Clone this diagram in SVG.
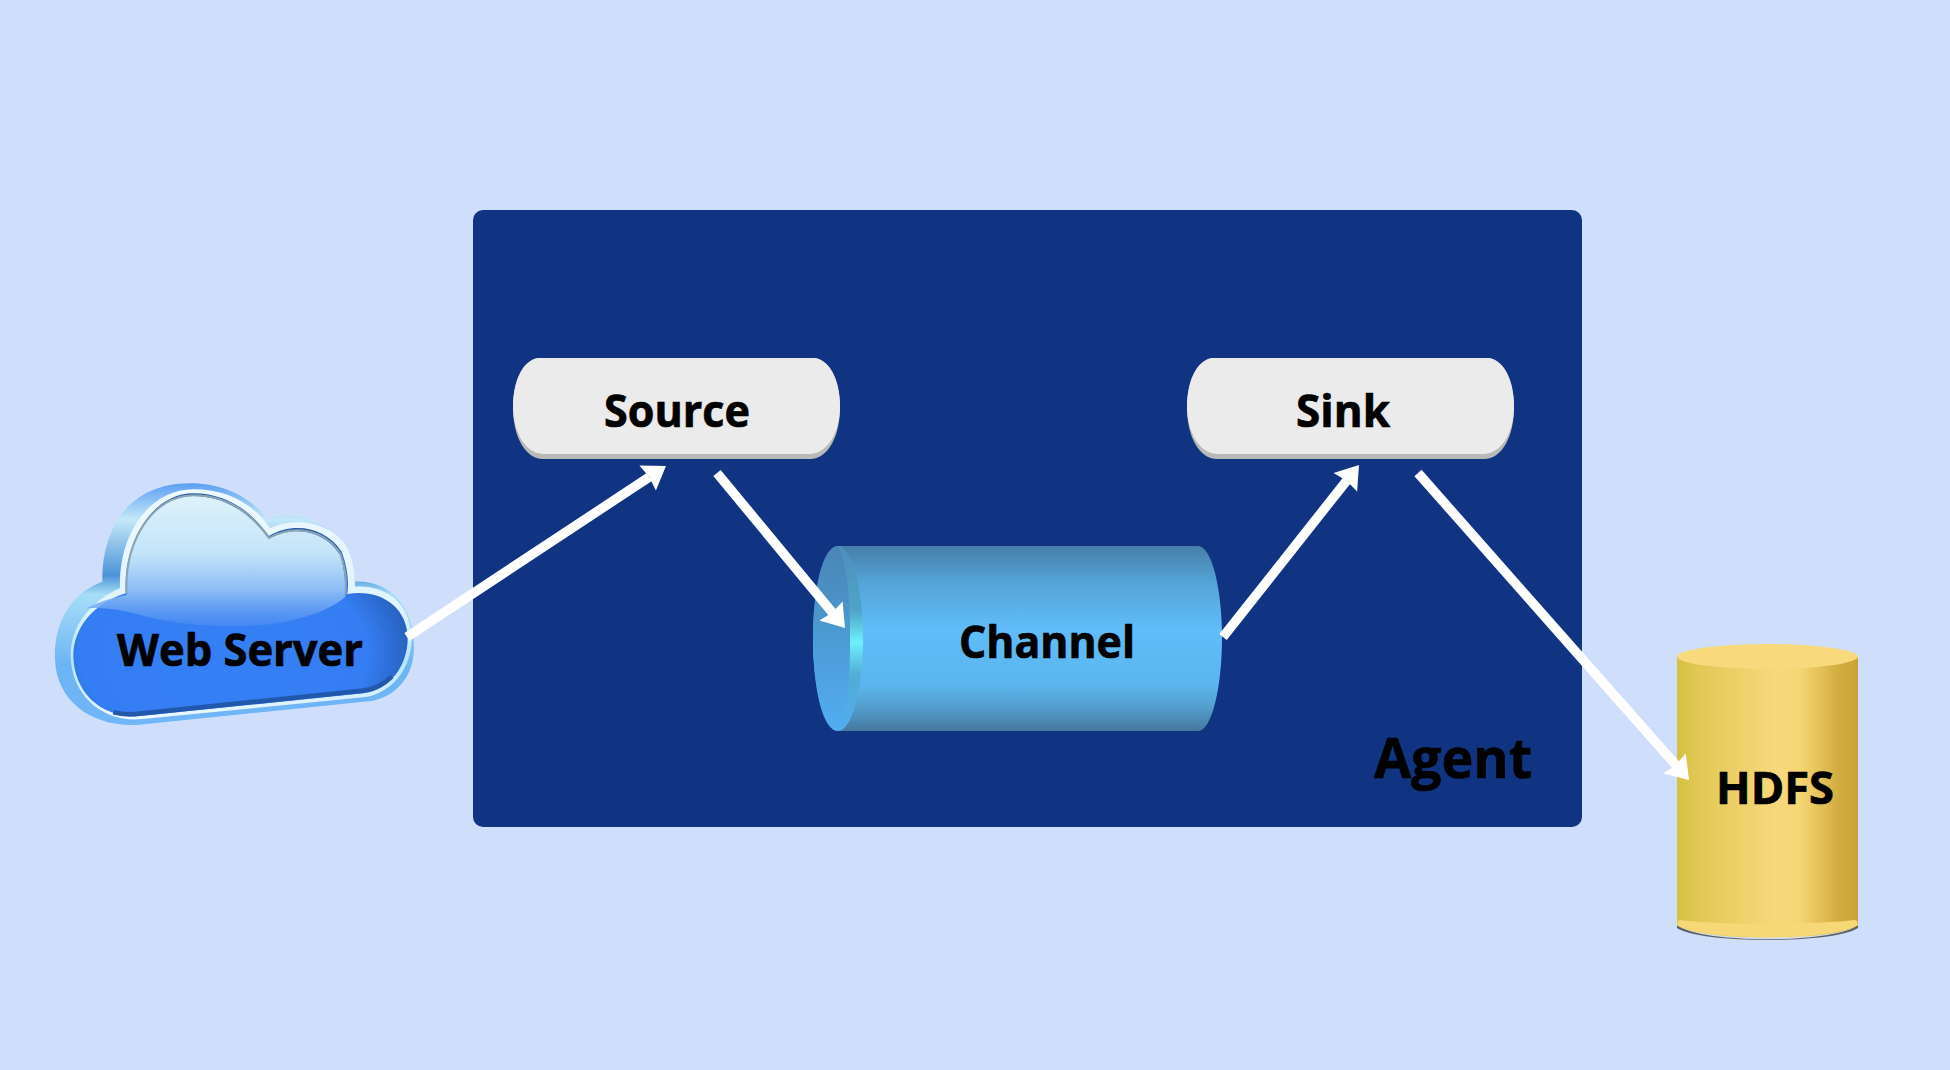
<svg xmlns="http://www.w3.org/2000/svg" width="1950" height="1070" viewBox="0 0 1950 1070">
<style>
text{font-family:"Open Sans","Noto Sans","Liberation Sans",sans-serif;font-weight:700;fill:#000;stroke:#000;stroke-width:.7px;font-size:44px}
.arrow{stroke:#fff;stroke-width:9.500;fill:none;marker-end:url(#head)}
.pillBase{fill:#b9bab8}
.pillTop{fill:#ebebeb}
</style>
<defs>
<marker id="head" markerUnits="userSpaceOnUse" markerWidth="32" markerHeight="36" refX="8" refY="18" orient="auto" viewBox="0 0 32 36"><path d="M6 3 L28 18 L6 33 L8 18Z" fill="#fff"/></marker>
<filter id="soft" x="-5%" y="-5%" width="110%" height="110%"><feGaussianBlur stdDeviation="1.200"/></filter>
<linearGradient id="chanG" x1="0" y1="0" x2="0" y2="1"><stop offset="0" stop-color="#467ea8"/><stop offset=".2" stop-color="#55a4d8"/><stop offset=".45" stop-color="#60bdf8"/><stop offset=".75" stop-color="#5cb6ee"/><stop offset=".88" stop-color="#539ccb"/><stop offset="1" stop-color="#46789f"/></linearGradient>
<linearGradient id="chanFace" x1="0" y1="0" x2="0" y2="1"><stop offset="0" stop-color="#4a85b5"/><stop offset=".5" stop-color="#4c9bd4"/><stop offset="1" stop-color="#52adf2"/></linearGradient>
<linearGradient id="chanRim" x1="0" y1="0" x2="0" y2="1"><stop offset="0" stop-color="#4f8fbb"/><stop offset=".35" stop-color="#4fa4c8"/><stop offset=".52" stop-color="#6df0fb"/><stop offset=".7" stop-color="#52acd6"/><stop offset="1" stop-color="#52acef"/></linearGradient>
<linearGradient id="hdfsG" x1="0" y1="0" x2="1" y2="0"><stop offset="0" stop-color="#d4c243"/><stop offset=".12" stop-color="#e2c855"/><stop offset=".55" stop-color="#f7d97c"/><stop offset=".68" stop-color="#f5d674"/><stop offset=".9" stop-color="#d2ab3e"/><stop offset="1" stop-color="#cba235"/></linearGradient>
<linearGradient id="cloudSide" x1="0" y1="0" x2="0" y2="1"><stop offset="0" stop-color="#5d9ff2"/><stop offset=".15" stop-color="#c4e8f8"/><stop offset=".38" stop-color="#4d93d8"/><stop offset=".46" stop-color="#a6def8"/><stop offset=".75" stop-color="#6db4f4"/><stop offset="1" stop-color="#6fb6f8"/></linearGradient>
<linearGradient id="cloudRim" x1="0" y1="0" x2="0" y2="1"><stop offset="0" stop-color="#eef9fd"/><stop offset=".5" stop-color="#e0f4fc"/><stop offset=".75" stop-color="#b4e4fa"/><stop offset="1" stop-color="#f0f8fd"/></linearGradient>
<radialGradient id="cloudBody" cx=".45" cy=".72" r=".6"><stop offset="0" stop-color="#3680f6"/><stop offset=".72" stop-color="#347df2"/><stop offset="1" stop-color="#2458b0"/></radialGradient>
<linearGradient id="cloudGloss" x1="0" y1="0" x2="0" y2="1"><stop offset="0" stop-color="#def2fb"/><stop offset=".45" stop-color="#c2e3f9"/><stop offset=".72" stop-color="#8dbdf6"/><stop offset=".9" stop-color="#659ff2" stop-opacity=".75"/><stop offset="1" stop-color="#5a97f0" stop-opacity=".35"/></linearGradient>
</defs>
<rect width="1950" height="1070" fill="#cfdffb"/>
<g id="agent"><rect x="473" y="210" width="1109" height="617" rx="10" fill="#103482"/><text x="1374" y="778" textLength="158" lengthAdjust="spacingAndGlyphs" style="font-size:56px">Agent</text></g>
<g id="web-server">
<g transform="translate(30 460) scale(.33333)" filter="url(#soft)">
<path d="M75 600C70 480 130 395 217 365C215 200 300 70 480 70C580 70 660 110 712 178C780 150 870 170 925 240C950 280 970 330 975 365C1080 360 1150 440 1152 560C1152 650 1100 705 1030 722L320 795C180 800 80 720 75 600Z" fill="url(#cloudSide)"/>
<path d="M122 590C120 500 180 425 270 385C265 220 360 88 490 88C590 88 670 130 720 205C790 170 900 185 950 260C970 300 975 340 975 380C1070 375 1140 430 1145 530C1147 620 1090 700 1000 712L330 778C210 785 125 700 122 590Z" fill="url(#cloudRim)"/>
<path d="M130 590C129 505 190 430 287 400C280 240 370 100 490 100C590 100 665 155 717 228C790 185 885 200 935 275C952 320 958 370 952 402C1050 385 1130 440 1133 530C1135 615 1080 690 1000 700L330 768C215 775 134 700 130 590Z" fill="url(#cloudBody)"/>
<path d="M290 405C282 240 370 108 490 108C590 108 665 165 717 236C790 195 885 210 930 285C944 325 948 375 945 412C900 450 810 485 700 495C590 505 450 495 350 470C290 452 230 440 170 445C205 425 255 412 290 405Z" fill="url(#cloudGloss)"/>
<path d="M290 400C282 240 370 106 490 106C590 106 665 160 717 234C790 192 885 207 932 282C946 322 950 370 946 406" fill="none" stroke="#8aa4b2" stroke-width="6"/>
<path d="M250 757C280 765 310 764 335 760L1000 692C1030 688 1060 675 1085 650" fill="none" stroke="#2458ac" stroke-width="14"/>
</g>
<text x="117" y="666" textLength="246" lengthAdjust="spacingAndGlyphs">Web Server</text>
</g>
<g id="source"><path class="pillBase" d="M538 358H815C832 361 840 384 840 408C840 436 828 459 810 459H543C525 459 513 436 513 408C513 384 521 361 538 358Z"/><path class="pillTop" d="M538 358H815C832 361 840 384 840 406C840 432 828 453 810 454H543C525 453 513 432 513 406C513 384 521 361 538 358Z"/><text x="604" y="427" textLength="146" lengthAdjust="spacingAndGlyphs">Source</text></g>
<g id="sink"><path class="pillBase" d="M1212 358H1489C1506 361 1514 384 1514 408C1514 436 1502 459 1484 459H1217C1199 459 1187 436 1187 408C1187 384 1195 361 1212 358Z"/><path class="pillTop" d="M1212 358H1489C1506 361 1514 384 1514 406C1514 432 1502 453 1484 454H1217C1199 453 1187 432 1187 406C1187 384 1195 361 1212 358Z"/><text x="1296" y="427" textLength="94" lengthAdjust="spacingAndGlyphs">Sink</text></g>
<g id="channel">
<path d="M838 546H1198C1212 546 1222 590 1222 638C1222 686 1212 731 1198 731H838Z" fill="url(#chanG)"/>
<ellipse cx="838" cy="638.500" rx="25" ry="92.500" fill="url(#chanRim)"/>
<path d="M838 546C822 546 813 590 813 638C813 686 822 731 838 731C846 720 850 690 850 640C850 590 846 560 838 546Z" fill="url(#chanFace)"/>
<text x="959" y="658" textLength="176" lengthAdjust="spacingAndGlyphs">Channel</text>
</g>
<g id="hdfs">
<path d="M1677 925C1700 944 1835 944 1858 925V928C1835 944 1700 944 1677 928Z" fill="#5e6060"/>
<path d="M1677 657H1858V925C1835 942 1700 942 1677 925Z" fill="url(#hdfsG)"/>
<path d="M1677 925C1678 922 1678 920 1680 920C1720 925 1815 925 1855 920C1857 920 1857 922 1858 925C1835 941 1700 941 1677 925Z" fill="#f6d877"/>
<ellipse cx="1767.500" cy="656.500" rx="90.500" ry="12.500" fill="#f8da7c"/>
<text x="1716" y="804" textLength="118" lengthAdjust="spacingAndGlyphs">HDFS</text>
</g>
<g id="connectors">
<line class="arrow" x1="407" y1="637" x2="649.300" y2="477"/>
<line class="arrow" x1="717" y1="473" x2="832.300" y2="612.600"/>
<line class="arrow" x1="1223" y1="637" x2="1346.600" y2="480.700"/>
<line class="arrow" x1="1418" y1="473" x2="1675.800" y2="765"/>
</g>
</svg>
